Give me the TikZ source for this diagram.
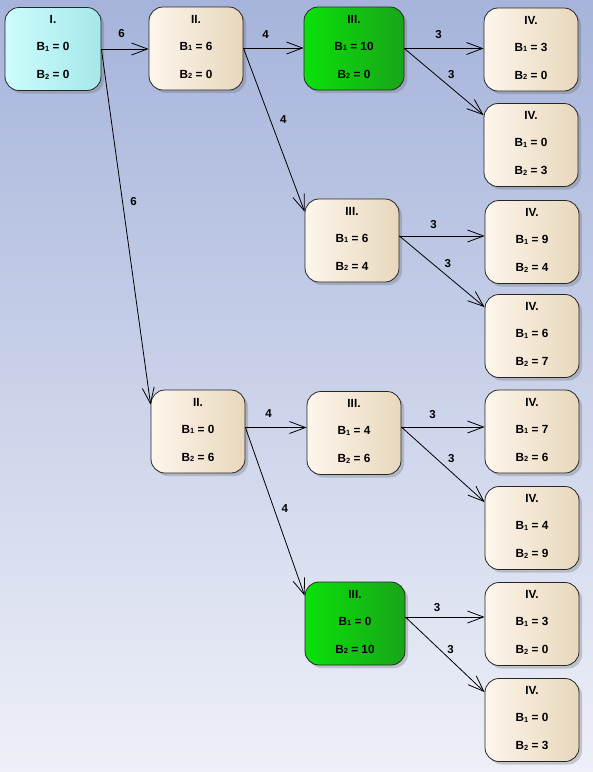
\documentclass[tikz,border=0pt]{standalone}
\usepackage{fontspec}
\setmainfont{Liberation Sans}
\usetikzlibrary{arrows.meta,shadows,calc}
\definecolor{bgtop}{RGB}{166,180,219}
\definecolor{bgbot}{RGB}{238,240,248}
\definecolor{beigeL}{RGB}{253,246,236}
\definecolor{beigeM}{RGB}{248,238,222}
\definecolor{beigeR}{RGB}{232,215,188}
\definecolor{grnL}{RGB}{10,225,10}
\definecolor{grnM}{RGB}{0,248,0}
\definecolor{grnR}{RGB}{25,165,25}
\definecolor{cyL}{RGB}{205,252,252}
\definecolor{cyR}{RGB}{165,232,234}
\newcommand{\lowsub}[1]{\raisebox{-0.8pt}{\fontsize{7.5}{8}\selectfont #1}}
\newcommand{\boxtext}[3]{#1\\[-1pt]B\lowsub{1} = #2\\B\lowsub{2} = #3\rule[-4pt]{0pt}{4pt}}
\begin{document}
\begin{tikzpicture}[x=1pt,y=-1pt,
  box/.style={draw=black!85, line width=0.8pt, rounded corners=14pt,
    minimum width=94pt, minimum height=83pt, align=center, inner sep=0pt,
    font={\fontsize{11.8}{28}\selectfont\bfseries},
    drop shadow={shadow xshift=3pt,shadow yshift=-3pt,opacity=0.3,fill=black!60}},
  beige/.style={box, left color=beigeL, middle color=beigeM, right color=beigeR},
  greenbox/.style={box, minimum width=100pt, left color=grnL, middle color=grnM, right color=grnR},
  cyanbox/.style={box, minimum width=96pt, left color=cyL, right color=cyR},
  edge/.style={draw=black, line width=0.8pt, -{Straight Barb[length=16pt,width=12pt,line width=0.8pt]}},
  lab/.style={inner sep=1pt, font={\fontsize{11.5}{12}\selectfont\bfseries}}
]
\useasboundingbox (0,0) rectangle (593,772);
\fill[top color=bgtop, bottom color=bgbot] (0,0) rectangle (593,772);

\node[cyanbox] (n1) at (53,49) {\boxtext{I.}{0}{0}};
\node[beige] (n2) at (196,48.5) {\boxtext{II.}{6}{0}};
\node[greenbox] (n3) at (354,48.5) {\boxtext{III.}{10}{0}};
\node[beige] (n4) at (531,49.5) {\boxtext{IV.}{3}{0}};
\node[beige] (n5) at (531,145) {\boxtext{IV.}{0}{3}};
\node[beige] (n6) at (352,240.5) {\boxtext{III.}{6}{4}};
\node[beige] (n7) at (532,242) {\boxtext{IV.}{9}{4}};
\node[beige] (n8) at (532,336) {\boxtext{IV.}{6}{7}};
\node[beige] (n9) at (198,431.5) {\boxtext{II.}{0}{6}};
\node[beige] (n10) at (354,433) {\boxtext{III.}{4}{6}};
\node[beige] (n11) at (532,431.5) {\boxtext{IV.}{7}{6}};
\node[beige] (n12) at (532,528) {\boxtext{IV.}{4}{9}};
\node[greenbox] (n13) at (355,623.5) {\boxtext{III.}{0}{10}};
\node[beige] (n14) at (532,624) {\boxtext{IV.}{3}{0}};
\node[beige] (n15) at (532,720) {\boxtext{IV.}{0}{3}};

\coordinate (n1-o) at ($(n1.east)+(0,0)$);
\coordinate (n2-o) at ($(n2.east)+(0,-0.5)$);
\coordinate (n3-o) at ($(n3.east)+(0,0)$);
\coordinate (n6-o) at ($(n6.east)+(0,-4.5)$);
\coordinate (n9-o) at ($(n9.east)+(0,-4)$);
\coordinate (n10-o) at ($(n10.east)+(0,-6)$);
\coordinate (n13-o) at ($(n13.east)+(0,-6.5)$);

% horizontal connectors
\draw[edge] (n1-o) -- node[lab, pos=0.43, above=10pt]{6} (n1-o -| n2.west);
\draw[edge] (n2-o) -- node[lab, pos=0.37, above=8pt]{4} (n2-o -| n3.west);
\draw[edge] (n3-o) -- node[lab, pos=0.43, above=8pt]{3} (n3-o -| n4.west);
\draw[edge] (n6-o) -- node[lab, pos=0.40, above=6pt]{3} (n6-o -| n7.west);
\draw[edge] (n9-o) -- node[lab, pos=0.38, above=9pt]{4} (n9-o -| n10.west);
\draw[edge] (n10-o) -- node[lab, pos=0.375, above=7pt]{3} (n10-o -| n11.west);
\draw[edge] (n13-o) -- node[lab, pos=0.40, above=4pt]{3} (n13-o -| n14.west);

% diagonal connectors
\draw[edge] (n1-o) -- node[lab, pos=0.43, right=6.5pt]{6} ($(n9.north west)+(0,15)$);
\draw[edge] (n2-o) -- node[lab, pos=0.44, right=8.5pt]{4} ($(n6.north west)+(0,13)$);
\draw[edge] (n9-o) -- node[lab, pos=0.48, right=6.5pt]{4} ($(n13.north west)+(0,14)$);
\draw[edge] (n3-o) -- node[lab, pos=0.39, right=11.5pt]{3} ($(n5.north west)+(0,12)$);
\draw[edge] (n6-o) -- node[lab, pos=0.39, right=10.5pt]{3} ($(n8.north west)+(0,13)$);
\draw[edge] (n10-o) -- node[lab, pos=0.42, right=10.5pt]{3} ($(n12.north west)+(0,16)$);
\draw[edge] (n13-o) -- node[lab, pos=0.43, right=6.5pt]{3} ($(n15.north west)+(0,14)$);
\end{tikzpicture}
\end{document}
